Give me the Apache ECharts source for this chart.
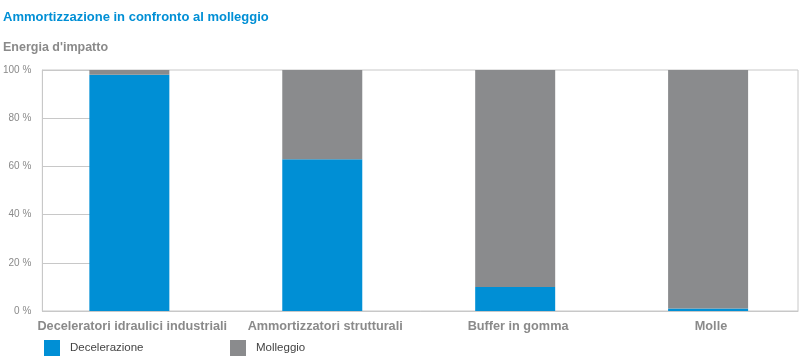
<!DOCTYPE html>
<html><head><meta charset="utf-8">
<script src="https://cdn.jsdelivr.net/npm/echarts@6/dist/echarts.min.js"></script>
<style>html,body{margin:0;padding:0;background:#fff}#c{width:800px;height:357px}</style>
</head><body><div id="c"></div>
<script>
const categories = ['Deceleratori idraulici industriali', 'Ammortizzatori strutturali', 'Buffer in gomma', 'Molle'];
const decelerazione = [98, 63, 10, 1];
const molleggio = [2, 37, 90, 99];
const yTicks = [0, 20, 40, 60, 80, 100];
const seriesNames = ['Decelerazione', 'Molleggio'];

const BLUE = '#008fd5', GREY = '#8a8b8d', TXT = '#8a8a8a', LINE = '#c8c8c8';
const FONT = '"Liberation Sans", Arial, sans-serif';

const chart = echarts.init(document.getElementById('c'));
chart.setOption({
  animation: false,
  textStyle: { fontFamily: FONT },
  title: [
    { text: 'Ammortizzazione in confronto al molleggio', left: 3, top: 11, padding: 0,
      textStyle: { color: BLUE, fontSize: 13, fontWeight: 'bold', fontFamily: FONT } },
    { text: "Energia d'impatto", left: 3, top: 41, padding: 0,
      textStyle: { color: TXT, fontSize: 12.5, fontWeight: 'bold', fontFamily: FONT } }
  ],
  legend: [
    { data: [seriesNames[0]], left: 44, top: 340, padding: 0, itemWidth: 16, itemHeight: 16, itemGap: 0,
      icon: 'rect', textStyle: { color: '#444', fontSize: 11.5, fontFamily: FONT, padding: [0, 0, 0, 5] } },
    { data: [seriesNames[1]], left: 230, top: 340, padding: 0, itemWidth: 16, itemHeight: 16, itemGap: 0,
      icon: 'rect', textStyle: { color: '#444', fontSize: 11.5, fontFamily: FONT, padding: [0, 0, 0, 5] } }
  ],
  grid: { left: 40, right: 2, top: 70, bottom: 46, show: true, borderColor: LINE, borderWidth: 1, containLabel: false },
  xAxis: {
    type: 'value', min: -0.451, max: 3.466,
    splitLine: { show: false },
    axisLine: { show: true, onZero: false, lineStyle: { color: LINE } },
    axisTick: { show: false },
    axisLabel: {
      customValues: categories.map((c, i) => i + 0.015),
      formatter: v => categories[Math.round(v)] || '',
      color: TXT, fontSize: 12.7, fontWeight: 'bold', margin: 9, fontFamily: FONT
    }
  },
  yAxis: {
    type: 'value', min: 0, max: 100, interval: 20,
    splitLine: { show: false },
    axisLine: { show: true, onZero: false, lineStyle: { color: LINE } },
    axisTick: { show: true, inside: true, length: 49, lineStyle: { color: LINE } },
    axisLabel: { formatter: v => yTicks.includes(v) ? v + ' %' : '', color: TXT, fontSize: 10, margin: 11, fontFamily: FONT }
  },
  series: [
    { name: seriesNames[0], type: 'bar', stack: 's', barWidth: 80, itemStyle: { color: BLUE },
      encode: { x: 1, y: 0 }, data: decelerazione.map((v, i) => [v, i]) },
    { name: seriesNames[1], type: 'bar', stack: 's', barWidth: 80, itemStyle: { color: GREY },
      encode: { x: 1, y: 0 }, data: molleggio.map((v, i) => [v, i]) }
  ]
});
</script></body></html>
